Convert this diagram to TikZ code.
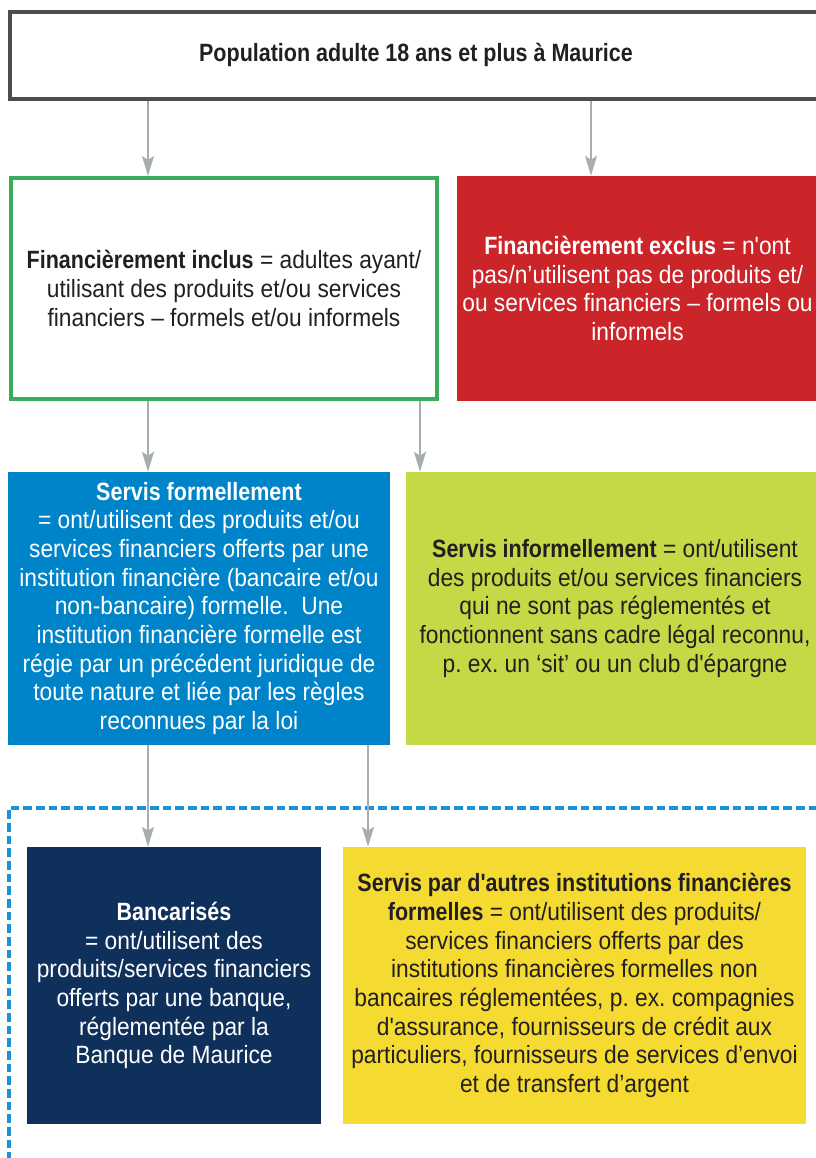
\documentclass[tikz,border=0pt]{standalone}
\usepackage{fontspec}
\setmainfont{Liberation Sans}[Ligatures=TeXOff,FakeStretch=0.91,BoldFeatures={FakeStretch=0.86}]
\usetikzlibrary{arrows.meta}

\definecolor{gristrait}{HTML}{4D4D4F}
\definecolor{grisfleche}{HTML}{A7AFAE}
\definecolor{texte}{HTML}{231F20}
\definecolor{vertinclus}{HTML}{3AAA5C}
\definecolor{rougeexclus}{HTML}{CC2529}
\definecolor{bleuformel}{HTML}{0084C9}
\definecolor{vertinformel}{HTML}{C5D846}
\definecolor{bleubanque}{HTML}{10305C}
\definecolor{jauneautres}{HTML}{F5DB31}
\definecolor{bleutirets}{HTML}{1B91D6}

\tikzset{
  boite/.style={inner sep=0pt, align=center, text=texte,
    font=\fontsize{18.75}{21.5}\selectfont\frenchspacing},
  fleche/.style={draw=grisfleche, line width=1.2pt,
    -{Stealth[length=15pt,width=9pt,inset=3pt,fill=grisfleche]}},
}

\begin{document}
\begin{tikzpicture}[x=0.75pt,y=-0.75pt]
    \useasboundingbox (0,0) rectangle (816,1158);

    %%%% Population
    \node [boite, draw=gristrait, line width=3pt, minimum width=612pt, minimum height=65.25pt]
        (pop) at (418,55.5) {};
    \node [boite] (poptexte) at (416,55) {\textbf{Population adulte 18 ans et plus à Maurice}};

    %%%%%%%%%%%%%%%%%%% Inclus / exclus %%%%%%%%%%%%%%%%%%%%%%%%%%%%%%%
    \node [boite, draw=vertinclus, line width=3pt, minimum width=319.5pt, minimum height=165.75pt]
        (inclus) at (224,288.5) {\textbf{Financièrement inclus} = adultes ayant/\\
        utilisant des produits et/ou services\\
        financiers – formels et/ou informels};
    \node [boite, fill=rougeexclus, text=white, minimum width=270.75pt, minimum height=168.75pt]
        (exclus) at (637.5,288.5) {\textbf{Financièrement exclus} = n'ont\\
        pas/n’utilisent pas de produits et/\\
        ou services financiers – formels ou\\
        informels};

    %%%%%%%%%%%%%%%%%%% Formel / informel %%%%%%%%%%%%%%%%%%%%%%%%%%%%%%
    \node [boite, fill=bleuformel, text=white, minimum width=286.5pt, minimum height=204.75pt]
        (formel) at (199,608.5) {\textbf{Servis formellement}\\
        = ont/utilisent des produits et/ou\\
        services financiers offerts par une\\
        institution financière (bancaire et/ou\\
        non-bancaire) formelle.\ \ Une\\
        institution financière formelle est\\
        régie par un précédent juridique de\\
        toute nature et liée par les règles\\
        reconnues par la loi};
    \node [boite, fill=vertinformel, minimum width=313.5pt, minimum height=204.75pt]
        (informel) at (615,608.5) {\textbf{Servis informellement} = ont/utilisent\\
        des produits et/ou services financiers\\
        qui ne sont pas réglementés et\\
        fonctionnent sans cadre légal reconnu,\\
        p. ex. un ‘sit’ ou un club d'épargne};

    % Cadre en tirets
    \draw [bleutirets, line width=2.8pt, dash pattern=on 6.5pt off 3pt]
        (830,808) -- (9,808) -- (9,1170);

    %%%%%%%%%%%%%%%%%%% Banque / autres %%%%%%%%%%%%%%%%%%%%%%%%%%%%%%%%
    \node [boite, fill=bleubanque, text=white, minimum width=220.5pt, minimum height=207.75pt]
        (banque) at (174,985.5) {\textbf{Bancarisés}\\
        = ont/utilisent des\\
        produits/services financiers\\
        offerts par une banque,\\
        réglementée par la\\
        Banque de Maurice};
    \node [boite, fill=jauneautres, minimum width=347.25pt, minimum height=207.75pt]
        (autres) at (574.5,985.5) {\textbf{Servis par d'autres institutions financières}\\
        \textbf{formelles} = ont/utilisent des produits/\\
        services financiers offerts par des\\
        institutions financières formelles non\\
        bancaires réglementées, p. ex. compagnies\\
        d'assurance, fournisseurs de crédit aux\\
        particuliers, fournisseurs de services d’envoi\\
        et de transfert d’argent};

    % Fleches
    \draw [fleche] (pop.south -| 148,0) -- (inclus.north -| 148,0);
    \draw [fleche] (pop.south -| 591,0) -- (exclus.north -| 591,0);
    \draw [fleche] (inclus.south -| 148,0) -- (formel.north -| 148,0);
    \draw [fleche] (inclus.south -| 420,0) -- (informel.north -| 420,0);
    \draw [fleche] (formel.south -| 148,0) -- (banque.north -| 148,0);
    \draw [fleche] (formel.south -| 368,0) -- (autres.north -| 368,0);

\end{tikzpicture}
\end{document}
